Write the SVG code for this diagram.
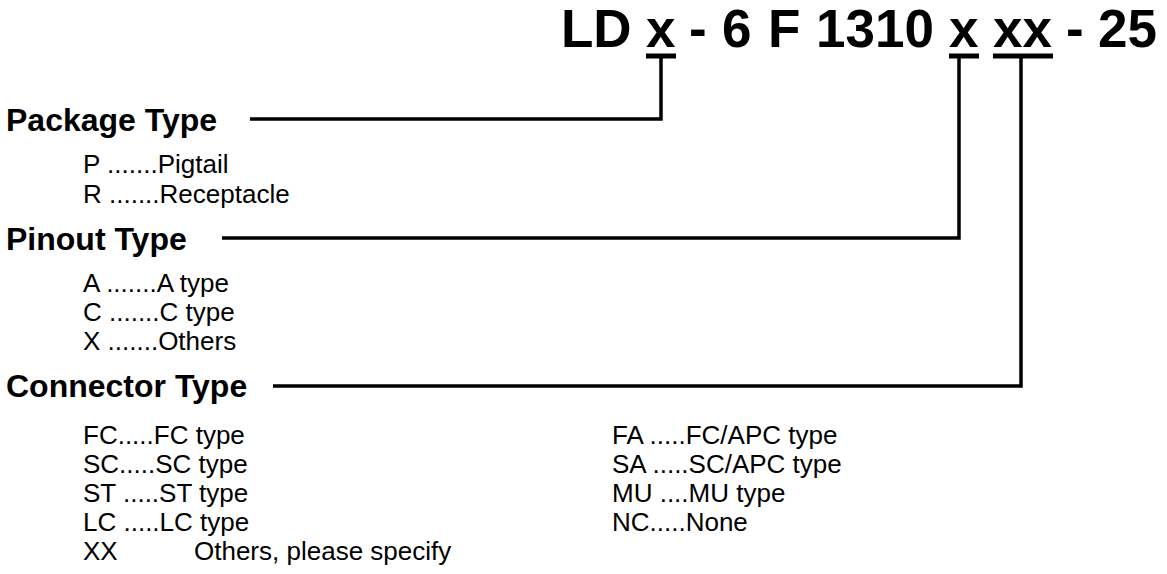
<svg xmlns="http://www.w3.org/2000/svg" width="1167" height="574" viewBox="0 0 1167 574">
<style>
.title{font-family:"Liberation Sans",Arial,sans-serif;font-weight:bold;font-size:53px;fill:#000}
.head{font-family:"Liberation Sans",Arial,sans-serif;font-weight:bold;font-size:32px;fill:#000}
.item{font-family:"Liberation Sans",Arial,sans-serif;font-size:26px;fill:#000}
.ln{stroke:#000;stroke-width:3.5;fill:none}
.ul{stroke:#000;stroke-width:5;fill:none}
</style>
<rect width="1167" height="574" fill="#fff"/>
<g id="title">
<text class="title" y="47"><tspan x="561">LD</tspan><tspan x="646">x</tspan><tspan x="689">-</tspan><tspan x="722">6</tspan><tspan x="768">F</tspan><tspan x="816">1310</tspan><tspan x="949">x</tspan><tspan x="993">xx</tspan><tspan x="1066">-</tspan><tspan x="1098">25</tspan></text>
<line class="ul" x1="646" y1="56" x2="676" y2="56"/>
<line class="ul" x1="949" y1="56" x2="979" y2="56"/>
<line class="ul" x1="993" y1="56" x2="1053" y2="56"/>
</g>
<g id="connectors">
<polyline class="ln" points="250,119 661,119 661,57"/>
<polyline class="ln" points="222,238 959,238 959,57"/>
<polyline class="ln" points="273,386 1021,386 1021,57"/>
</g>
<g id="package">
<text class="head" x="6" y="131">Package Type</text>
<text class="item" x="83" y="173">P .......Pigtail</text>
<text class="item" x="83" y="203">R .......Receptacle</text>
</g>
<g id="pinout">
<text class="head" x="6" y="250">Pinout Type</text>
<text class="item" x="83" y="292">A .......A type</text>
<text class="item" x="83" y="321">C .......C type</text>
<text class="item" x="83" y="350">X .......Others</text>
</g>
<g id="connector">
<text class="head" x="6" y="397">Connector Type</text>
<text class="item" x="83" y="444">FC.....FC type</text>
<text class="item" x="83" y="473">SC.....SC type</text>
<text class="item" x="83" y="502">ST .....ST type</text>
<text class="item" x="83" y="531">LC .....LC type</text>
<text class="item" x="83" y="560">XX</text>
<text class="item" x="194" y="560">Others, please specify</text>
<text class="item" x="612" y="444">FA .....FC/APC type</text>
<text class="item" x="612" y="473">SA .....SC/APC type</text>
<text class="item" x="612" y="502">MU ....MU type</text>
<text class="item" x="612" y="531">NC.....None</text>
</g>
</svg>
